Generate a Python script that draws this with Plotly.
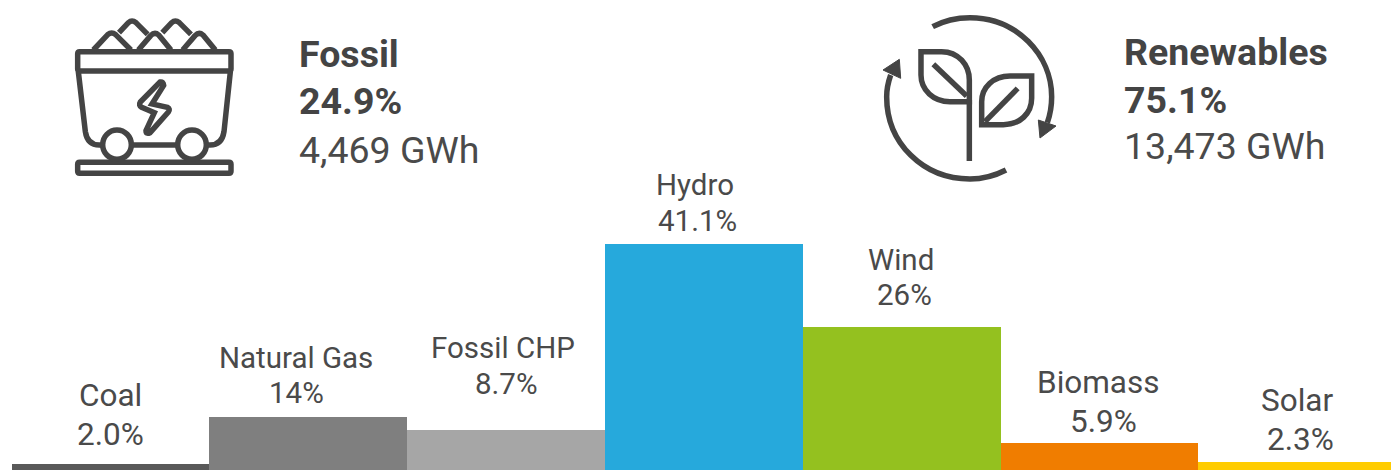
import plotly.graph_objects as go

W, H = 1391, 470

# ---- data ----
categories = ["Coal", "Natural Gas", "Fossil CHP", "Hydro", "Wind", "Biomass", "Solar"]
share_labels = ["2.0%", "14%", "8.7%", "41.1%", "26%", "5.9%", "2.3%"]
bar_heights = [1.1, 9.64, 7.27, 41.1, 26.0, 4.9, 1.45]
bar_colors = ["#595959", "#7f7f7f", "#a6a6a6", "#26a9dc", "#94c11f", "#f07d00", "#ffcc00"]
group_names = ["Fossil", "Renewables"]
group_shares = ["24.9%", "75.1%"]
group_energy = ["4,469 GWh", "13,473 GWh"]

TEXT = "#444444"
LABEL_TEXT = "#4a4a4a"
BAR_W = 197.8
LEFT = 11.6

# label placement in page pixels
name_y = [395.5, 358, 348, 185, 260, 382, 400]
share_y = [434.5, 393, 384, 221, 295, 421, 439]
name_x = [110, 296, 503, 694.5, 900.5, 1098, 1296.5]
share_x = [110, 296, 506.5, 697.5, 904.5, 1103, 1300]
label_size = [31.5, 29.5, 29.5, 29.5, 29.5, 31.5, 31.5]
group_x = [298.5, 1123.5]
group_line_y = [[54.5, 101.5, 150.5], [51.5, 99.5, 146.5]]
GROUP_SIZE = 37.5

fig = go.Figure(go.Bar(
    x=list(range(len(categories))),
    y=bar_heights,
    width=1.0,
    marker=dict(color=bar_colors, line=dict(width=0)),
    hoverinfo="skip",
))

def px(x):
    return x / W

def py(y):
    return 1 - y / H

annotations = []

def text(x, y, s, size, bold=False, anchor="center"):
    annotations.append(dict(
        xref="paper", yref="paper", x=px(x), y=py(y), text=f"<b>{s}</b>" if bold else s,
        showarrow=False, xanchor=anchor, yanchor="middle", align=anchor,
        font=dict(family="Roboto", size=size, color=TEXT if bold else LABEL_TEXT),
        borderpad=0, borderwidth=0,
    ))

for i, name in enumerate(categories):
    text(name_x[i], name_y[i], name, label_size[i])
    text(share_x[i], share_y[i], share_labels[i], label_size[i])

for i in range(2):
    ys = group_line_y[i]
    text(group_x[i], ys[0], group_names[i], GROUP_SIZE, bold=True, anchor="left")
    text(group_x[i], ys[1], group_shares[i], GROUP_SIZE, bold=True, anchor="left")
    text(group_x[i], ys[2], group_energy[i], GROUP_SIZE, anchor="left")

# ---- icons, drawn in 3x-crop coordinates of each icon box ----
shapes = []

def make_path(ox, oy):
    def P(*segs):
        out = []
        for s in segs:
            cmd, pts = s[0], s[1:]
            coords = " ".join(
                f"{px(ox + pts[k] / 3):.5f},{py(oy + pts[k + 1] / 3):.5f}"
                for k in range(0, len(pts), 2)
            )
            out.append(f"{cmd}{coords}")
        return " ".join(out)
    return P

def add(path, fill=None, lw=5.5):
    shapes.append(dict(
        type="path", xref="paper", yref="paper", path=path,
        line=dict(color=TEXT, width=lw),
        fillcolor=fill if fill else "rgba(0,0,0,0)",
        layer="above",
    ))

def rrect(P, x0, y0, x1, y1, r):
    return P(("M", x0 + r, y0), ("L", x1 - r, y0), ("Q", x1, y0, x1, y0 + r),
             ("L", x1, y1 - r), ("Q", x1, y1, x1 - r, y1), ("L", x0 + r, y1),
             ("Q", x0, y1, x0, y1 - r), ("L", x0, y0 + r), ("Q", x0, y0, x0 + r, y0)) + " Z"

def ellipse(P, cx, cy, rx, ry):
    kx, ky = 0.5523 * rx, 0.5523 * ry
    return P(("M", cx + rx, cy),
             ("C", cx + rx, cy + ky, cx + kx, cy + ry, cx, cy + ry),
             ("C", cx - kx, cy + ry, cx - rx, cy + ky, cx - rx, cy),
             ("C", cx - rx, cy - ky, cx - kx, cy - ry, cx, cy - ry),
             ("C", cx + kx, cy - ry, cx + rx, cy - ky, cx + rx, cy)) + " Z"

# coal cart
C = make_path(60, 0)
add(rrect(C, 53, 155, 513, 213, 6))
add(rrect(C, 53, 487, 513, 520, 6))
add(C(("M", 100, 150), ("L", 143, 104), ("Q", 155, 94, 167, 104), ("L", 213, 150)))
add(C(("M", 177, 98), ("L", 205, 68), ("Q", 216, 58, 228, 68), ("L", 263, 103)))
add(C(("M", 235, 150), ("L", 272, 107), ("Q", 284, 95, 296, 105), ("L", 333, 150)))
add(C(("M", 307, 98), ("L", 335, 68), ("Q", 346, 58, 358, 68), ("L", 393, 103)))
add(C(("M", 368, 150), ("L", 405, 107), ("Q", 417, 95, 429, 105), ("L", 466, 150)))
add(C(("M", 55, 215), ("L", 76, 395), ("Q", 82, 435, 118, 435), ("L", 130, 435)))
add(C(("M", 511, 215), ("L", 492, 395), ("Q", 486, 435, 450, 435), ("L", 438, 435)))
add(C(("M", 212, 435), ("L", 354, 435)))
add(ellipse(C, 171, 434, 43, 44))
add(ellipse(C, 396, 434, 43, 44))
add(C(("M", 300, 246), ("Q", 310, 244, 311, 256), ("L", 276, 312), ("L", 322, 322),
      ("Q", 332, 327, 325, 336), ("L", 270, 398), ("Q", 258, 404, 258, 392),
      ("L", 283, 338), ("L", 245, 322), ("Q", 235, 316, 241, 306), ("L", 300, 246)) + " Z")

# leaves and cycle arrows
L = make_path(870, 0)
add(L(("M", 188, 80), ("C", 225, 60, 265, 53, 300, 53), ("C", 440, 53, 545, 165, 545, 290),
      ("C", 545, 315, 540, 345, 532, 368)))
add(L(("M", 408, 510), ("C", 375, 527, 340, 537, 300, 537), ("C", 160, 537, 50, 430, 50, 290),
      ("C", 50, 265, 55, 245, 62, 225)))
add(L(("M", 505, 360), ("L", 558, 378), ("L", 510, 414)) + " Z", fill=TEXT, lw=1)
add(L(("M", 39, 210), ("L", 88, 178), ("L", 92, 235)) + " Z", fill=TEXT, lw=1)
add(L(("M", 153, 155), ("L", 215, 155), ("C", 265, 155, 298, 195, 298, 240), ("L", 298, 305),
      ("L", 240, 305), ("C", 190, 305, 153, 270, 153, 225)) + " Z")
add(L(("M", 190, 193), ("L", 290, 288)))
add(L(("M", 298, 300), ("L", 298, 483)))
add(L(("M", 485, 228), ("L", 420, 228), ("C", 370, 228, 335, 262, 335, 305), ("L", 335, 374),
      ("L", 400, 374), ("C", 450, 374, 485, 340, 485, 295)) + " Z")
add(L(("M", 443, 265), ("L", 345, 365)))

fig.update_layout(
    width=W, height=H, autosize=False,
    margin=dict(l=0, r=0, t=0, b=0, pad=0),
    paper_bgcolor="white", plot_bgcolor="white",
    showlegend=False, bargap=0,
    xaxis=dict(visible=False, range=[-0.5 - LEFT / BAR_W, -0.5 + (W - LEFT) / BAR_W]),
    yaxis=dict(visible=False, range=[0, H / 5.5]),
    annotations=annotations, shapes=shapes,
)

fig.write_html("out.html", config=dict(displayModeBar=False, responsive=False),
               post_script="document.body.style.margin='0';document.body.style.overflow='hidden';")
